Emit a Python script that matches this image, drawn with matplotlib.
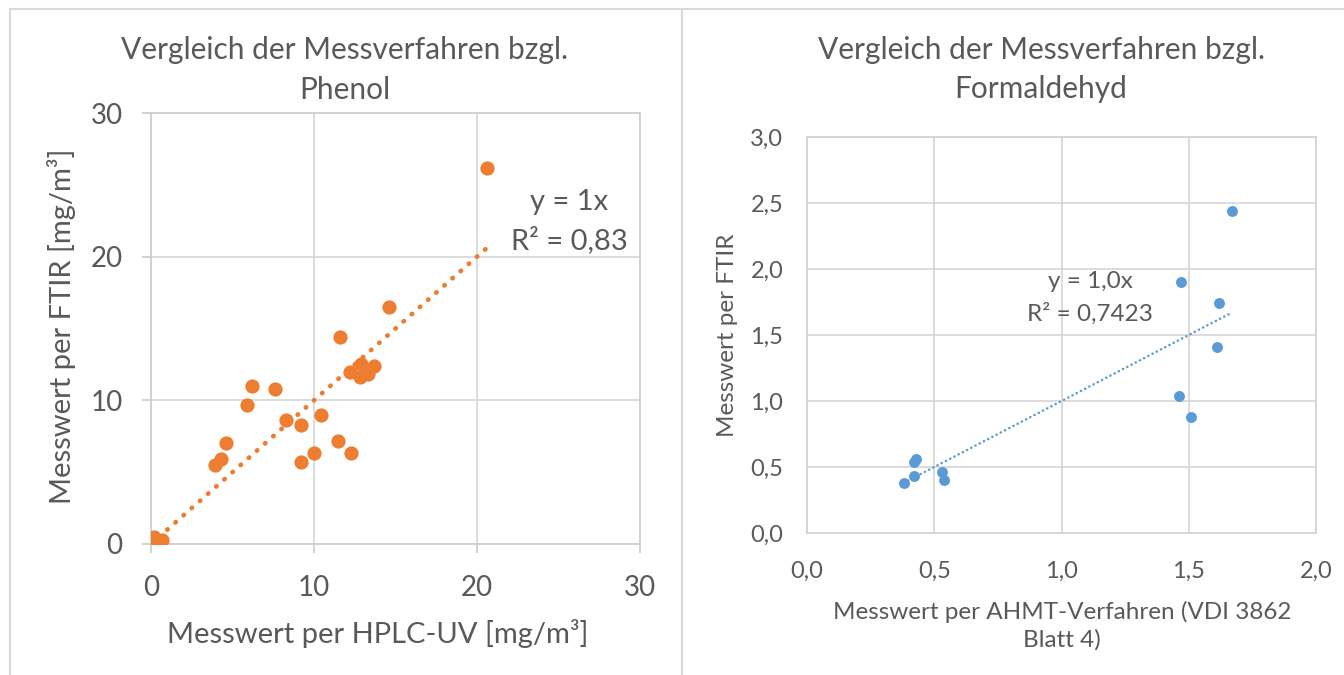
import matplotlib
matplotlib.use("Agg")
import matplotlib.pyplot as plt
from matplotlib.lines import Line2D
from matplotlib.ticker import FuncFormatter

plt.rcParams['font.family'] = ['Lato', 'DejaVu Sans']

# Phenol: HPLC-UV (x) vs FTIR (y), mg/m3
phenol_x = [0.1, 0.2, 0.3, 0.5, 0.7, 3.9, 4.3, 4.6, 5.9, 6.2, 7.6, 8.3, 9.2, 9.2,
            10.0, 10.4, 11.5, 11.6, 12.2, 12.3, 12.8, 12.9, 13.3, 13.7, 14.6, 20.6]
phenol_y = [0.2, 0.5, 0.0, 0.1, 0.3, 5.5, 5.9, 7.0, 9.7, 11.0, 10.8, 8.6, 8.3, 5.7,
            6.3, 9.0, 7.2, 14.4, 12.0, 6.3, 11.6, 12.5, 11.8, 12.4, 16.5, 26.2]
phenol_slope = 1.0

# Formaldehyd: AHMT (x) vs FTIR (y)
form_x = [0.38, 0.42, 0.42, 0.43, 0.53, 0.54, 1.46, 1.47, 1.51, 1.61, 1.62, 1.67]
form_y = [0.38, 0.43, 0.54, 0.56, 0.46, 0.40, 1.04, 1.90, 0.88, 1.41, 1.74, 2.44]
form_slope = 1.0

phenol_ticks = [0, 10, 20, 30]
form_xticks = [0.0, 0.5, 1.0, 1.5, 2.0]
form_yticks = [0.0, 0.5, 1.0, 1.5, 2.0, 2.5, 3.0]

W, H = 1344, 675
TXT = '#595959'
GRID = '#d9d9d9'
ORANGE = '#ED7D31'
BLUE = '#5B9BD5'


def box(x0, y0, x1, y1):
    # pixel box (top-left origin) -> figure fraction
    return [x0 / W, 1 - y1 / H, (x1 - x0) / W, (y1 - y0) / H]


def ftext(x, y, s, **kw):
    kw.setdefault('color', TXT)
    fig.text(x / W, 1 - y / H, s, ha='center', va='center', **kw)


fig = plt.figure(figsize=(W / 100, H / 100), dpi=100)

# panel borders
for xs, ys in [([10, W], [9, 9]), ([10, 10], [9, H]), ([682, 682], [9, H])]:
    fig.add_artist(Line2D([x / W for x in xs], [1 - y / H for y in ys],
                          color=GRID, lw=1.5))

comma = FuncFormatter(lambda v, p: f"{v:.1f}".replace('.', ','))

# ---- left chart: Phenol ----
ax1 = fig.add_axes(box(151, 113, 640, 544))
ax1.scatter(phenol_x, phenol_y, s=105, color=ORANGE, zorder=3, linewidths=0)
tx = [0, max(phenol_x)]
ax1.plot(tx, [phenol_slope * v for v in tx], color=ORANGE, lw=3.4,
         linestyle=(0, (0.1, 2.2)), dash_capstyle='round', zorder=2)
ax1.set_xlim(0, 30)
ax1.set_ylim(0, 30)
ax1.set_xticks(phenol_ticks)
ax1.set_yticks(phenol_ticks)
ax1.grid(True, color=GRID, lw=1.3)
ax1.set_axisbelow(True)
for sp in ax1.spines.values():
    sp.set_color('#cfcfcf')
    sp.set_linewidth(1.3)
ax1.tick_params(colors='#cfcfcf', labelcolor=TXT, labelsize=20, length=6.5,
                width=1.3, pad=14)
ax1.tick_params(axis='x', pad=16)
ftext(345, 50, 'Vergleich der Messverfahren bzgl.', fontsize=21.5)
ftext(345, 90, 'Phenol', fontsize=21.5)
ftext(378, 633, 'Messwert per HPLC-UV [mg/m³]', fontsize=21)
ftext(62, 326, 'Messwert per FTIR [mg/m³]', rotation=90, fontsize=21)
ftext(569, 202, 'y = 1x', fontsize=21)
ftext(569, 240, 'R² = 0,83', fontsize=21)

# ---- right chart: Formaldehyd ----
ax2 = fig.add_axes(box(807, 137, 1316, 533))
ax2.scatter(form_x, form_y, s=62, color=BLUE, zorder=3, linewidths=0)
tx = [min(form_x), max(form_x)]
ax2.plot(tx, [form_slope * v for v in tx], color=BLUE, lw=1.8,
         linestyle=(0, (0.1, 1.8)), dash_capstyle='round', zorder=2)
ax2.set_xlim(0, 2.0)
ax2.set_ylim(0, 3.0)
ax2.set_xticks(form_xticks)
ax2.set_yticks(form_yticks)
ax2.xaxis.set_major_formatter(comma)
ax2.yaxis.set_major_formatter(comma)
ax2.grid(True, color=GRID, lw=1.3)
ax2.set_axisbelow(True)
for sp in ax2.spines.values():
    sp.set_color('#d4d4d4')
    sp.set_linewidth(1.3)
ax2.tick_params(length=0, labelcolor=TXT, labelsize=17, pad=17)
ax2.tick_params(axis='x', pad=20)
ftext(1041, 50, 'Vergleich der Messverfahren bzgl.', fontsize=21.5)
ftext(1041, 89, 'Formaldehyd', fontsize=21.5)
ftext(1062, 626, 'Messwert per AHMT-Verfahren (VDI 3862\nBlatt 4)', fontsize=17.5,
      linespacing=1.32)
ftext(728, 335, 'Messwert per FTIR', rotation=90, fontsize=17.5)
ftext(1090, 282, 'y = 1,0x', fontsize=17.5)
ftext(1090, 314, 'R² = 0,7423', fontsize=17.5)

fig.savefig('out.png', dpi=100, facecolor='white')
